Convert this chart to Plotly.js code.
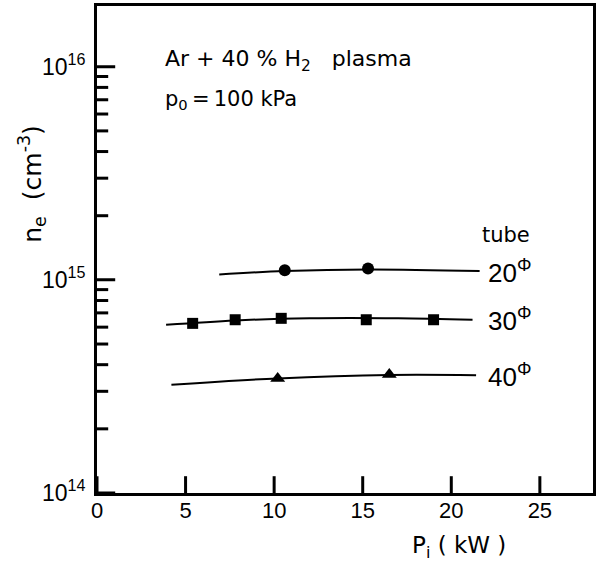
<!DOCTYPE html>
<html>
<head>
<meta charset="utf-8">
<script src="https://cdn.plot.ly/plotly-3.0.1.min.js"></script>
<style>html,body{margin:0;padding:0;background:#fff;}#chart{width:597px;height:563px;}</style>
</head>
<body>
<div id="chart"></div>
<script>
// Measured points
const tube20_x = [10.6, 15.3];
const tube20_y = [1.11e15, 1.13e15];
const tube30_x = [5.4, 7.8, 10.4, 15.2, 19.0];
const tube30_y = [6.25e14, 6.5e14, 6.6e14, 6.5e14, 6.5e14];
const tube40_x = [10.2, 16.5];
const tube40_y = [3.45e14, 3.6e14];
// Hand-drawn fit curves
const fit20_x = [6.9, 10.6, 15.3, 21.6];
const fit20_y = [1.06e15, 1.1e15, 1.12e15, 1.1e15];
const fit30_x = [3.9, 7.8, 12.0, 17.0, 21.2];
const fit30_y = [6.15e14, 6.45e14, 6.6e14, 6.6e14, 6.5e14];
const fit40_x = [4.2, 10.2, 16.5, 21.4];
const fit40_y = [3.22e14, 3.45e14, 3.58e14, 3.57e14];
const tubeLabels = ['20<sup>Φ</sup>', '30<sup>Φ</sup>', '40<sup>Φ</sup>'];
const xTicks = [0, 5, 10, 15, 20, 25];
const yTicks = [1e14, 1e15, 1e16];
const yTickText = ['10<sup>14</sup>', '10<sup>15</sup>', '10<sup>16</sup>'];
const yMinor = [2e14,3e14,4e14,5e14,6e14,7e14,8e14,9e14,2e15,3e15,4e15,5e15,6e15,7e15,8e15,9e15];

const F = 'Liberation Sans, Arial, sans-serif';
const FD = 'DejaVu Sans, sans-serif';
const XR = [0, 28];
const YR = [14, 16.285];
const W = 597, H = 563, M = {l: 97, r: 4, t: 6, b: 70};

const traces = [];
// inside tick marks: line markers centred on the axis line, the outer half clipped by the plot area
traces.push({x: xTicks, y: xTicks.map(() => Math.pow(10, YR[0])), mode: 'markers', hoverinfo: 'skip',
  marker: {symbol: 'line-ns-open', size: 24, color: '#000', line: {color: '#000', width: 3}}});
traces.push({x: yTicks.map(() => XR[0]), y: yTicks, mode: 'markers', hoverinfo: 'skip',
  marker: {symbol: 'line-ew-open', size: 26, color: '#000', line: {color: '#000', width: 3}}});
traces.push({x: yMinor.map(() => XR[0]), y: yMinor, mode: 'markers', hoverinfo: 'skip',
  marker: {symbol: 'line-ew-open', size: 16, color: '#000', line: {color: '#000', width: 3}}});

const line = {color: '#000', width: 2, shape: 'spline'};
traces.push(
  {x: fit20_x, y: fit20_y, mode: 'lines', line: line, hoverinfo: 'skip'},
  {x: fit30_x, y: fit30_y, mode: 'lines', line: line, hoverinfo: 'skip'},
  {x: fit40_x, y: fit40_y, mode: 'lines', line: line, hoverinfo: 'skip'},
  {x: tube20_x, y: tube20_y, mode: 'markers', marker: {symbol: 'circle', size: 12, color: '#000'}},
  {x: tube30_x, y: tube30_y, mode: 'markers', marker: {symbol: 'square', size: 11, color: '#000'}},
  {x: tube40_x, y: tube40_y, mode: 'markers', marker: {symbol: 'triangle-up', size: 13, color: '#000'}}
);
const labY = [fit20_y[fit20_y.length-1], fit30_y[fit30_y.length-1], fit40_y[fit40_y.length-1]];
const annotations = [
  {xref: 'paper', yref: 'paper', x: 0.133, y: 0.889, xanchor: 'left', yanchor: 'middle', showarrow: false,
   text: 'Ar + 40 % H<sub>2</sub>   plasma', font: {family: FD, size: 22, color: '#000'}},
  {xref: 'paper', yref: 'paper', x: 0.133, y: 0.808, xanchor: 'left', yanchor: 'middle', showarrow: false,
   text: 'p<sub>0</sub>\u2009=\u2009100 kPa', font: {family: FD, size: 21, color: '#000'}},
  {xref: 'paper', yref: 'paper', x: 0.824, y: 0.53, xanchor: 'center', yanchor: 'middle', showarrow: false,
   text: 'tube', font: {family: FD, size: 21, color: '#000'}},
  {xref: 'paper', yref: 'paper', x: -0.13, y: 0.634, xanchor: 'center', yanchor: 'middle', showarrow: false,
   textangle: -90, text: 'n<sub>e</sub>  (cm<sup>-3</sup>)', font: {family: FD, size: 25, color: '#000'}},
  {xref: 'paper', yref: 'paper', x: 0.729, y: -0.11, xanchor: 'center', yanchor: 'middle', showarrow: false,
   text: 'P<sub>i</sub> ( kW )', font: {family: FD, size: 23, color: '#000'}}
];
tubeLabels.forEach((t, i) => {
  annotations.push({xref: 'x', yref: 'y', x: 21.95, y: Math.log10(labY[i]), xanchor: 'left', yanchor: 'middle',
    showarrow: false, text: t, font: {family: F, size: 26, color: '#000'}});
});

const layout = {
  width: W, height: H,
  margin: M,
  paper_bgcolor: '#fff', plot_bgcolor: '#fff',
  showlegend: false,
  font: {family: F, color: '#000'},
  xaxis: {
    range: XR, tickmode: 'array', tickvals: xTicks, ticks: '',
    showline: true, linewidth: 3, linecolor: '#000', mirror: true, showgrid: false, zeroline: false,
    ticklabelstandoff: -4,
    tickfont: {family: F, size: 22, color: '#000'}
  },
  yaxis: {
    type: 'log', range: YR, tickmode: 'array', tickvals: yTicks, ticktext: yTickText, ticks: '',
    showline: true, linewidth: 3, linecolor: '#000', mirror: true, showgrid: false, zeroline: false,
    ticklabelstandoff: 4,
    tickfont: {family: F, size: 23, color: '#000'}
  },
  annotations: annotations
};
Plotly.newPlot('chart', traces, layout, {displayModeBar: false, staticPlot: true});
</script>
</body>
</html>
